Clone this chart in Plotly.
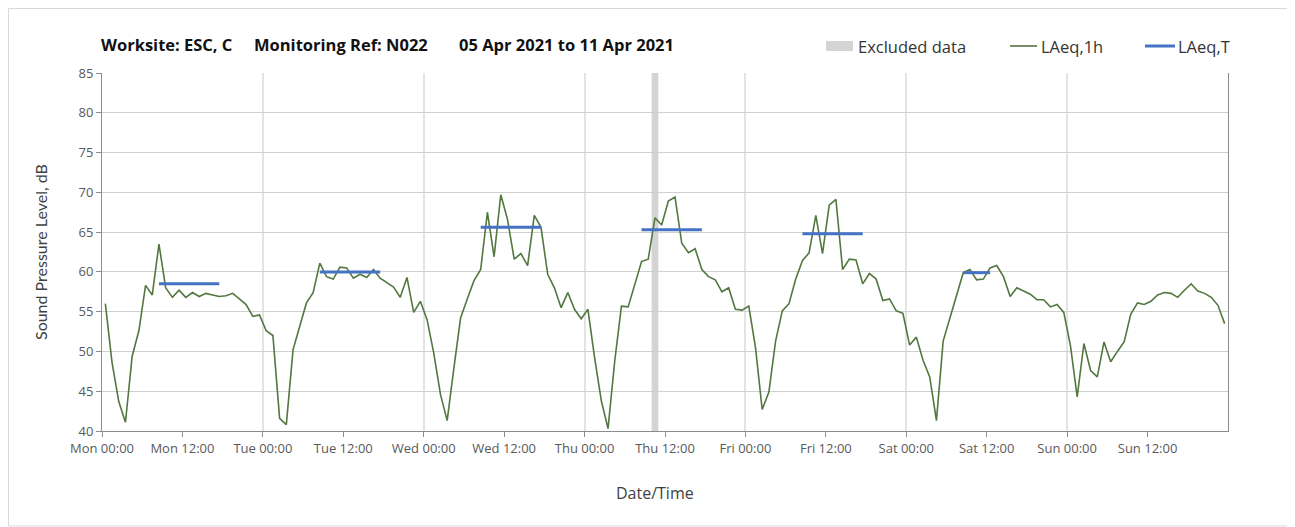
import pandas as pd
import plotly.graph_objects as go

# ---------------- data ----------------
start_time = "2021-04-05 00:30"  # hourly LAeq,1h values, plotted at mid-hour
laeq_1h_mon = [56.0, 48.6, 43.7, 41.1, 49.4, 52.6, 58.3, 57.1, 63.5, 58.0, 56.8, 57.7,
               56.8, 57.4, 56.9, 57.3, 57.1, 56.9, 57.0, 57.3, 56.6, 55.9, 54.4, 54.6]
laeq_1h_tue = [52.6, 52.0, 41.6, 40.8, 50.2, 53.0, 56.1, 57.4, 61.1, 59.4, 59.1, 60.6,
               60.5, 59.2, 59.7, 59.3, 60.3, 59.2, 58.7, 58.1, 56.8, 59.3, 54.9, 56.3]
laeq_1h_wed = [54.0, 49.8, 44.6, 41.3, 47.9, 54.2, 56.6, 58.9, 60.3, 67.5, 61.9, 69.7,
               66.6, 61.6, 62.3, 60.8, 67.1, 65.6, 59.7, 58.0, 55.5, 57.4, 55.3, 54.1]
laeq_1h_thu = [55.3, 49.2, 43.8, 40.3, 48.8, 55.7, 55.6, 58.4, 61.3, 61.6, 66.8, 65.9,
               68.9, 69.4, 63.6, 62.4, 62.9, 60.3, 59.4, 59.0, 57.5, 58.0, 55.3, 55.2]
laeq_1h_fri = [55.7, 50.5, 42.7, 44.9, 51.3, 55.1, 56.0, 59.1, 61.4, 62.4, 67.1, 62.3,
               68.4, 69.1, 60.3, 61.6, 61.5, 58.5, 59.8, 59.1, 56.4, 56.6, 55.1, 54.8]
laeq_1h_sat = [50.8, 51.8, 48.9, 46.8, 41.3, 51.3, 54.2, 57.3, 59.9, 60.3, 59.0, 59.1,
               60.5, 60.8, 59.4, 56.9, 58.0, 57.6, 57.2, 56.5, 56.5, 55.6, 55.9, 54.9]
laeq_1h_sun = [50.7, 44.3, 51.0, 47.6, 46.8, 51.2, 48.7, 50.0, 51.2, 54.7, 56.1, 55.9,
               56.3, 57.1, 57.4, 57.3, 56.8, 57.7, 58.5, 57.6, 57.3, 56.8, 55.8, 53.5]

# LAeq,T periods (start, end of period) and levels
period_start = ["2021-04-05 08:00", "2021-04-06 08:00", "2021-04-07 08:00",
                "2021-04-08 08:00", "2021-04-09 08:00", "2021-04-10 08:00"]
period_end = ["2021-04-05 18:00", "2021-04-06 18:00", "2021-04-07 18:00",
              "2021-04-08 18:00", "2021-04-09 18:00", "2021-04-10 13:00"]
laeq_t = [58.5, 60.0, 65.6, 65.3, 64.8, 59.9]

# Excluded data period
excluded_start = ["2021-04-08 10:00"]
excluded_end = ["2021-04-08 11:00"]

tick_labels = ["Mon 00:00", "Mon 12:00", "Tue 00:00", "Tue 12:00", "Wed 00:00", "Wed 12:00",
               "Thu 00:00", "Thu 12:00", "Fri 00:00", "Fri 12:00", "Sat 00:00", "Sat 12:00",
               "Sun 00:00", "Sun 12:00"]

title_parts = ["Worksite: ESC, C", "Monitoring Ref: N022", "05 Apr 2021 to 11 Apr 2021"]

# ---------------- figure ----------------
laeq_1h = (laeq_1h_mon + laeq_1h_tue + laeq_1h_wed + laeq_1h_thu +
           laeq_1h_fri + laeq_1h_sat + laeq_1h_sun)
times = pd.date_range(start_time, periods=len(laeq_1h), freq="h")
tick_vals = pd.date_range("2021-04-05 00:00", periods=len(tick_labels), freq="12h")
day_vals = pd.date_range("2021-04-05 00:00", periods=8, freq="D")

FONT = "Lato, 'Open Sans', sans-serif"
OPEN = "'Open Sans', sans-serif"
GREEN = "#52773f"
BLUE = "#4472c4"
GREY_BAND = "#d4d4d4"

fig = go.Figure()

shapes = []
for s, e in zip(excluded_start, excluded_end):
    shapes.append(dict(type="rect", xref="x", yref="paper", x0=s, x1=e, y0=0, y1=1,
                       fillcolor=GREY_BAND, line=dict(width=0), layer="below"))

fig.add_trace(go.Scatter(x=times, y=laeq_1h, mode="lines", name="LAeq,1h",
                         line=dict(color=GREEN, width=1.6), showlegend=False))

half = pd.Timedelta(minutes=30)
for s, e, v in zip(period_start, period_end, laeq_t):
    fig.add_trace(go.Scatter(x=[pd.Timestamp(s) + half, pd.Timestamp(e) - half], y=[v, v],
                             mode="lines", name="LAeq,T",
                             line=dict(color=BLUE, width=3), showlegend=False))

# page body has an 8px margin, so the figure is laid out 8px smaller
OFF = 8
W, H = 1295 - OFF, 527 - OFF
L, R, T, B = 102 - OFF, 67, 73 - OFF, 96
PW, PH = W - L - R, H - T - B


def px(x):  # reference-screen pixel -> paper
    return (x - OFF - L) / PW


def py(y):
    return (H - B - (y - OFF)) / PH


# outer border
shapes.append(dict(type="rect", xref="paper", yref="paper", x0=px(8.5), x1=px(1290),
                   y0=py(526), y1=py(8.5), line=dict(color="#d9d9d9", width=1),
                   fillcolor="rgba(0,0,0,0)", layer="below"))
# custom legend
shapes.append(dict(type="rect", xref="paper", yref="paper", x0=px(826), x1=px(853),
                   y0=py(51), y1=py(41), fillcolor=GREY_BAND, line=dict(width=0)))
shapes.append(dict(type="line", xref="paper", yref="paper", x0=px(1010), x1=px(1037),
                   y0=py(46), y1=py(46), line=dict(color=GREEN, width=1.6)))
shapes.append(dict(type="line", xref="paper", yref="paper", x0=px(1145), x1=px(1175),
                   y0=py(46), y1=py(46), line=dict(color=BLUE, width=3)))

annotations = []
for text, x0 in zip(title_parts, [99, 252, 457]):
    annotations.append(dict(text=text, xref="paper", yref="paper", x=px(x0), y=py(45),
                            xanchor="left", yanchor="middle", showarrow=False,
                            font=dict(family=OPEN, size=16.5, color="#111111", weight="bold")))
annotations += [
    dict(text="Excluded data", xref="paper", yref="paper", x=px(856), y=py(46),
         xanchor="left", yanchor="middle", showarrow=False,
         font=dict(family=OPEN, size=16.5, color="#333333")),
    dict(text="LAeq,1h", xref="paper", yref="paper", x=px(1039), y=py(46),
         xanchor="left", yanchor="middle", showarrow=False,
         font=dict(family=OPEN, size=16.5, color="#333333")),
    dict(text="LAeq,T", xref="paper", yref="paper", x=px(1176), y=py(46),
         xanchor="left", yanchor="middle", showarrow=False,
         font=dict(family=OPEN, size=16.5, color="#333333")),
    dict(text="Sound Pressure Level, dB", xref="paper", yref="paper", x=px(40), y=py(252),
         xanchor="center", yanchor="middle", textangle=-90, showarrow=False,
         font=dict(family=FONT, size=16, color="#404040")),
    dict(text="Date/Time", xref="paper", yref="paper", x=px(655), y=py(493),
         xanchor="center", yanchor="middle", showarrow=False,
         font=dict(family=OPEN, size=16, color="#404040")),
]

fig.update_layout(
    width=W, height=H,
    margin=dict(l=L, r=R, t=T, b=B),
    paper_bgcolor="white", plot_bgcolor="white",
    shapes=shapes, annotations=annotations,
    showlegend=False,
    font=dict(family=OPEN, size=12, color="#595959"),
)

fig.update_xaxes(
    type="date", range=[day_vals[0], day_vals[-1]],
    tickvals=tick_vals, ticktext=tick_labels,
    ticks="outside", ticklen=5, tickcolor="#8c8c8c", tickwidth=1,
    showgrid=False, showline=True, linecolor="#8c8c8c", linewidth=1,
    tickfont=dict(family=OPEN, size=13, color="#595959"),
    minor=dict(tickvals=day_vals, showgrid=True, gridcolor="#e3e3e3", gridwidth=1.5,
               ticks=""),
    zeroline=False,
)
fig.update_yaxes(
    range=[40, 85], dtick=5, tick0=40,
    ticks="outside", ticklen=5, tickcolor="#8c8c8c", tickwidth=1,
    showgrid=True, gridcolor="#d0d0d0", gridwidth=1,
    showline=True, linecolor="#8c8c8c", linewidth=1, mirror=True,
    tickfont=dict(family=OPEN, size=13, color="#595959"),
    zeroline=False,
)

fig.write_html("out.html")
